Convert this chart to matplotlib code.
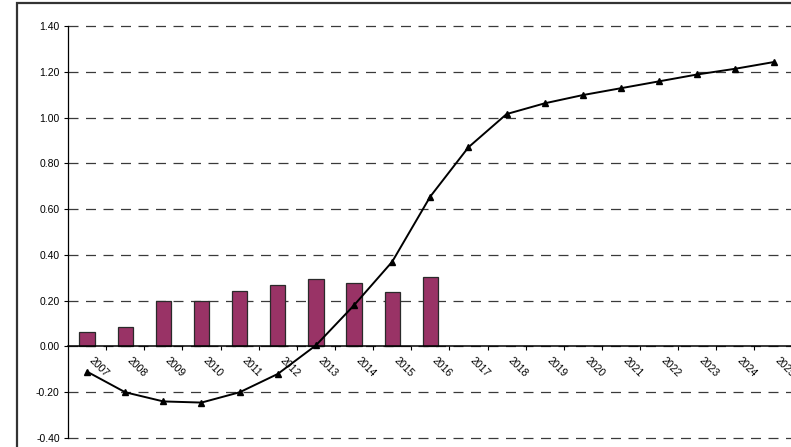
import matplotlib.pyplot as plt
import matplotlib.transforms as mtransforms
from matplotlib.patches import Rectangle

plt.rcParams['font.family'] = ['Liberation Sans', 'DejaVu Sans']

# -- datos --
anios = ['2007', '2008', '2009', '2010', '2011', '2012', '2013', '2014', '2015', '2016',
         '2017', '2018', '2019', '2020', '2021', '2022', '2023', '2024', '2025']
barras = [0.064, 0.087, 0.197, 0.200, 0.243, 0.268, 0.294, 0.277, 0.239, 0.305]
linea = [-0.11, -0.20, -0.24, -0.245, -0.20, -0.12, 0.005, 0.18, 0.37, 0.655,
         0.87, 1.015, 1.062, 1.098, 1.128, 1.158, 1.188, 1.213, 1.242]
marcas_y = [-0.40, -0.20, 0.00, 0.20, 0.40, 0.60, 0.80, 1.00, 1.20, 1.40]

fig = plt.figure(figsize=(7.91, 4.47), dpi=100)
fig.patch.set_facecolor('white')

# marco del area del grafico
fig.patches.append(Rectangle((0.0215, -0.1), 1.2, 1.093, transform=fig.transFigure,
                             fill=False, edgecolor='#333333', linewidth=1.6))

ax = fig.add_axes([0.086, 0.020, 0.916, 0.922])
x = list(range(len(anios)))

for y in marcas_y:
    ax.axhline(y, color='#3a3a3a', linewidth=0.9, linestyle=(0, (8, 6)),
               zorder=1, clip_on=False)

ax.bar(x[:len(barras)], barras, width=0.4, color='#993366', edgecolor='#2a2a2a',
       linewidth=0.9, zorder=2)
ax.plot(x, linea, color='black', linewidth=1.4, marker='^', markersize=5, zorder=3)

ax.set_xlim(-0.5, len(anios) - 0.5)
ax.set_ylim(-0.40, 1.40)
ax.set_yticks(marcas_y)
ax.set_yticklabels([f'{v:.2f}' for v in marcas_y], fontsize=7.5)
ax.tick_params(axis='y', direction='out', length=3, width=0.8, pad=3)

ax.spines['top'].set_visible(False)
ax.spines['right'].set_visible(False)
ax.spines['bottom'].set_position(('data', 0))
ax.spines['left'].set_linewidth(0.9)
ax.spines['bottom'].set_linewidth(1.1)
ax.spines['bottom'].set_zorder(4)

# marcas del eje x en los limites de cada categoria
ax.set_xticks([i + 0.5 for i in x])
ax.set_xticklabels([])
ax.tick_params(axis='x', direction='out', length=3, width=0.8)

# etiquetas de los anios, giradas -45 grados
desplaz = mtransforms.ScaledTranslation(7 / 100, -9 / 100, fig.dpi_scale_trans)
for i, a in zip(x, anios):
    ax.text(i, 0, a, fontsize=7.5, rotation=-45, rotation_mode='anchor',
            ha='left', va='top', transform=ax.transData + desplaz, clip_on=False)

fig.savefig('out.png', dpi=100)
